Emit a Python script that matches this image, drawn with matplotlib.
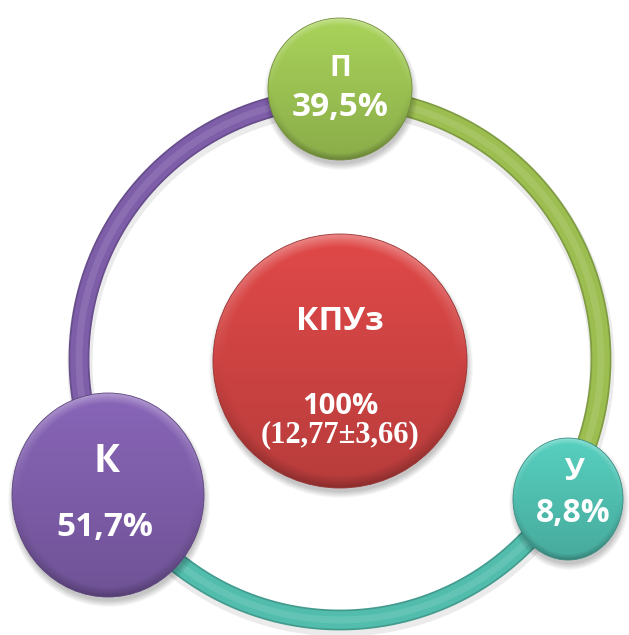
import numpy as np
import matplotlib.pyplot as plt
import matplotlib.colors as mcolors
from matplotlib.patches import Ellipse

# %% data
center_title = "КПУз"
center_share = 100
center_mean = 12.77
center_sd = 3.66

labels = ["П", "У", "К"]
shares = [39.5, 8.8, 51.7]
node_colors = ["#9AC052", "#4FBDAE", "#7C5CA7"]
ring_colors = ["#9CBE50", "#52BDAD", "#7E5EA9"]  # arc that leaves each node clockwise
center_color = "#CC4342"

# %% layout (image pixels, y down)
W, H = 629, 635
cx, cy, R = 340, 359, 261
node_xy = [(340, 89), (568, 499), (108, 495)]
node_r = [(72, 71), (55, 61), (96, 102)]
center_r = 127


def fmt(v, nd=1):
    return f"{v:.{nd}f}".replace(".", ",")


def mix(c, other, a):
    c = np.array(mcolors.to_rgb(c))
    o = np.array(mcolors.to_rgb(other))
    return tuple(c * (1 - a) + o * a)


def shaded_node(ax, xy, rx, ry, color, z):
    x, y = xy
    # soft drop shadow
    for k in range(10):
        ax.add_patch(Ellipse((x + 1, y + 5), 2 * rx + 10 - k * 1.4, 2 * ry + 10 - k * 1.4,
                             color="k", alpha=0.025, lw=0, zorder=z))
    e = Ellipse(xy, 2 * rx, 2 * ry, facecolor="none", edgecolor="none", zorder=z + 1)
    ax.add_patch(e)
    n = 300
    yy, xx = np.mgrid[-1:1:n * 1j, -1:1:n * 1j]
    base = np.array(mcolors.to_rgb(color))
    t = (yy + 1) / 2
    img = base[None, None, :] * (1.10 - 0.20 * t)[:, :, None]
    rr = np.sqrt(xx ** 2 + yy ** 2)
    edge = np.clip((rr - 0.90) / 0.10, 0, 1)
    top = np.clip(-yy, 0, 1)
    bot = np.clip(yy, 0, 1)
    img = img + (edge * top * 0.35)[:, :, None] * (1 - img)
    img = img * (1 - edge * bot * 0.25)[:, :, None]
    img = np.clip(img, 0, 1)
    im = ax.imshow(img, extent=(x - rx, x + rx, y + ry, y - ry), origin="upper",
                   interpolation="bilinear", zorder=z + 1)
    im.set_clip_path(e)
    ax.add_patch(Ellipse(xy, 2 * rx, 2 * ry, facecolor="none",
                         edgecolor=mix(color, "k", 0.25), lw=0.6, zorder=z + 2))


fig = plt.figure(figsize=(W / 100, H / 100), dpi=100)
ax = fig.add_axes([0, 0, 1, 1])
ax.set_xlim(0, W)
ax.set_ylim(H, 0)
ax.set_aspect("equal")
ax.axis("off")

# ring arcs between the nodes
ang = [np.degrees(np.arctan2(-(y - cy), x - cx)) for x, y in node_xy]
for i in range(len(labels)):
    t0 = ang[i]
    t1 = ang[(i + 1) % len(labels)]
    while t1 >= t0:
        t1 -= 360
    tt = np.radians(np.linspace(t0, t1, 300))
    xs = cx + R * np.cos(tt)
    ys = cy - R * np.sin(tt)
    c = ring_colors[i]
    ax.plot(xs + 1, ys + 4, color="k", alpha=0.08, lw=18, solid_capstyle="butt", zorder=1)
    ax.plot(xs, ys, color=mix(c, "k", 0.18), lw=15, solid_capstyle="butt", zorder=2)
    ax.plot(xs, ys, color=c, lw=12.5, solid_capstyle="butt", zorder=3)
    ax.plot(xs, ys, color=mix(c, "w", 0.10), lw=5, solid_capstyle="butt", zorder=4)

# centre node
shaded_node(ax, (cx, 361), center_r, center_r, center_color, 5)

# outer nodes
for (x, y), (rx, ry), c in zip(node_xy, node_r, node_colors):
    shaded_node(ax, (x, y), rx, ry, c, 10)

sans = ["Open Sans", "DejaVu Sans"]
txt = dict(color="white", fontweight="bold", ha="center", va="center", family=sans, zorder=20)

# label / value text positions per node
lab_pos = [(340, 68), (574, 472), (107, 462)]
val_pos = [(340, 108), (573, 514), (105, 528)]
lab_size = [21, 22, 28]
val_size = [24, 23, 24]
for i, lab in enumerate(labels):
    ax.text(*lab_pos[i], lab, fontsize=lab_size[i], **txt)
    ax.text(*val_pos[i], fmt(shares[i]) + "%", fontsize=val_size[i], **txt)

ax.text(340, 322, center_title, fontsize=24, **txt)
ax.text(340, 406, f"{center_share}%", fontsize=21, **txt)
ax.text(340, 435, f"({fmt(center_mean, 2)}±{fmt(center_sd, 2)})", color="white",
        fontweight="bold", ha="center", va="center", family=["Liberation Serif", "DejaVu Serif"],
        fontsize=22, zorder=20)

fig.savefig("out.png", dpi=100)
